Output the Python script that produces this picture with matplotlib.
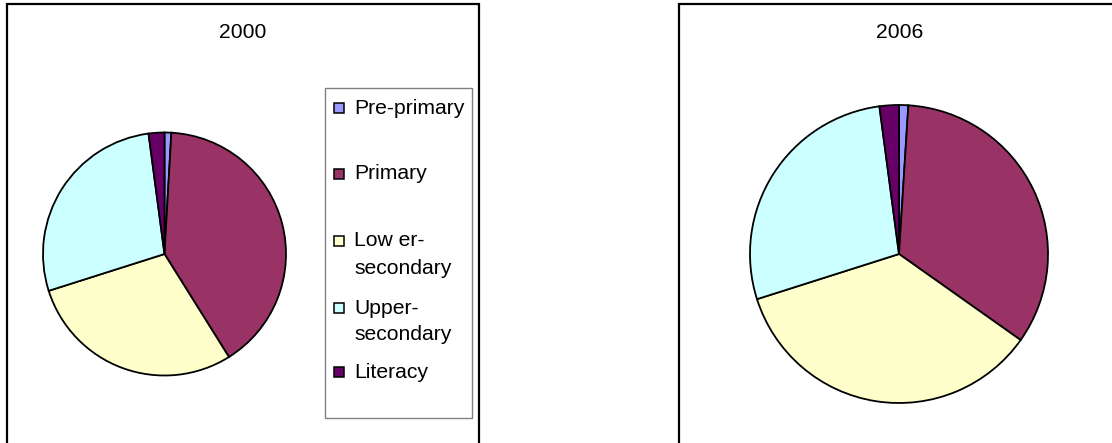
import matplotlib
matplotlib.use("Agg")
import matplotlib.pyplot as plt
from matplotlib.patches import Rectangle

# Share of education spending by level (%)
levels = ["Pre-primary", "Primary", "Low er-\nsecondary", "Upper-\nsecondary", "Literacy"]
share_2000 = [0.9, 40.2, 29.0, 27.8, 2.1]
share_2006 = [1.0, 33.8, 35.3, 27.8, 2.1]
years = ["2000", "2006"]

colors = ["#9999FF", "#993366", "#FFFFCC", "#CCFFFF", "#660066"]

plt.rcParams["font.family"] = ["Liberation Sans", "DejaVu Sans"]

W, H = 1112, 443
fig = plt.figure(figsize=(W / 100, H / 100), dpi=100)


def fx(x):
    return x / W


def fy(y):
    return 1 - y / H


def pie_axes(cx, cy, r):
    # square axes so that a unit pie (limits +-1.25) lands at centre cx, cy with radius r
    side = 2.5 * r
    return fig.add_axes([fx(cx - side / 2), fy(cy + side / 2), side / W, side / H])


def panel_box(x0, x1):
    fig.add_artist(Rectangle((fx(x0), fy(460)), fx(x1 - x0), (460 - 4) / H,
                             transform=fig.transFigure, fill=False,
                             edgecolor="black", linewidth=1.6))


wedge_style = dict(edgecolor="black", linewidth=1.3)

# panel 2000
panel_box(7, 479)
ax1 = pie_axes(164.5, 254, 121.5)
ax1.pie(share_2000, colors=colors, startangle=90, counterclock=False,
        wedgeprops=wedge_style)
fig.text(fx(243), fy(32), years[0], ha="center", va="center", fontsize=15.2)

# legend drawn by hand to keep Excel-like uneven spacing
fig.add_artist(Rectangle((fx(325), fy(418)), fx(472 - 325), (418 - 88) / H,
                         transform=fig.transFigure, fill=False,
                         edgecolor="#808080", linewidth=1.0))
legend_y = [108, 174, 241, 308, 372]
line_step = 27
for lab, col, y in zip(levels, colors, legend_y):
    fig.add_artist(Rectangle((fx(334), fy(y + 5)), 10 / W, 10 / H,
                             transform=fig.transFigure, facecolor=col,
                             edgecolor="black", linewidth=1.1))
    for i, part in enumerate(lab.split("\n")):
        fig.text(fx(354), fy(y + i * line_step), part, ha="left", va="center",
                 fontsize=15.2)

# panel 2006
panel_box(679, 1120)
ax2 = pie_axes(899, 254, 149)
ax2.pie(share_2006, colors=colors, startangle=90, counterclock=False,
        wedgeprops=wedge_style)
fig.text(fx(899.5), fy(32), years[1], ha="center", va="center", fontsize=15.2)

fig.savefig("out.png", dpi=100)
